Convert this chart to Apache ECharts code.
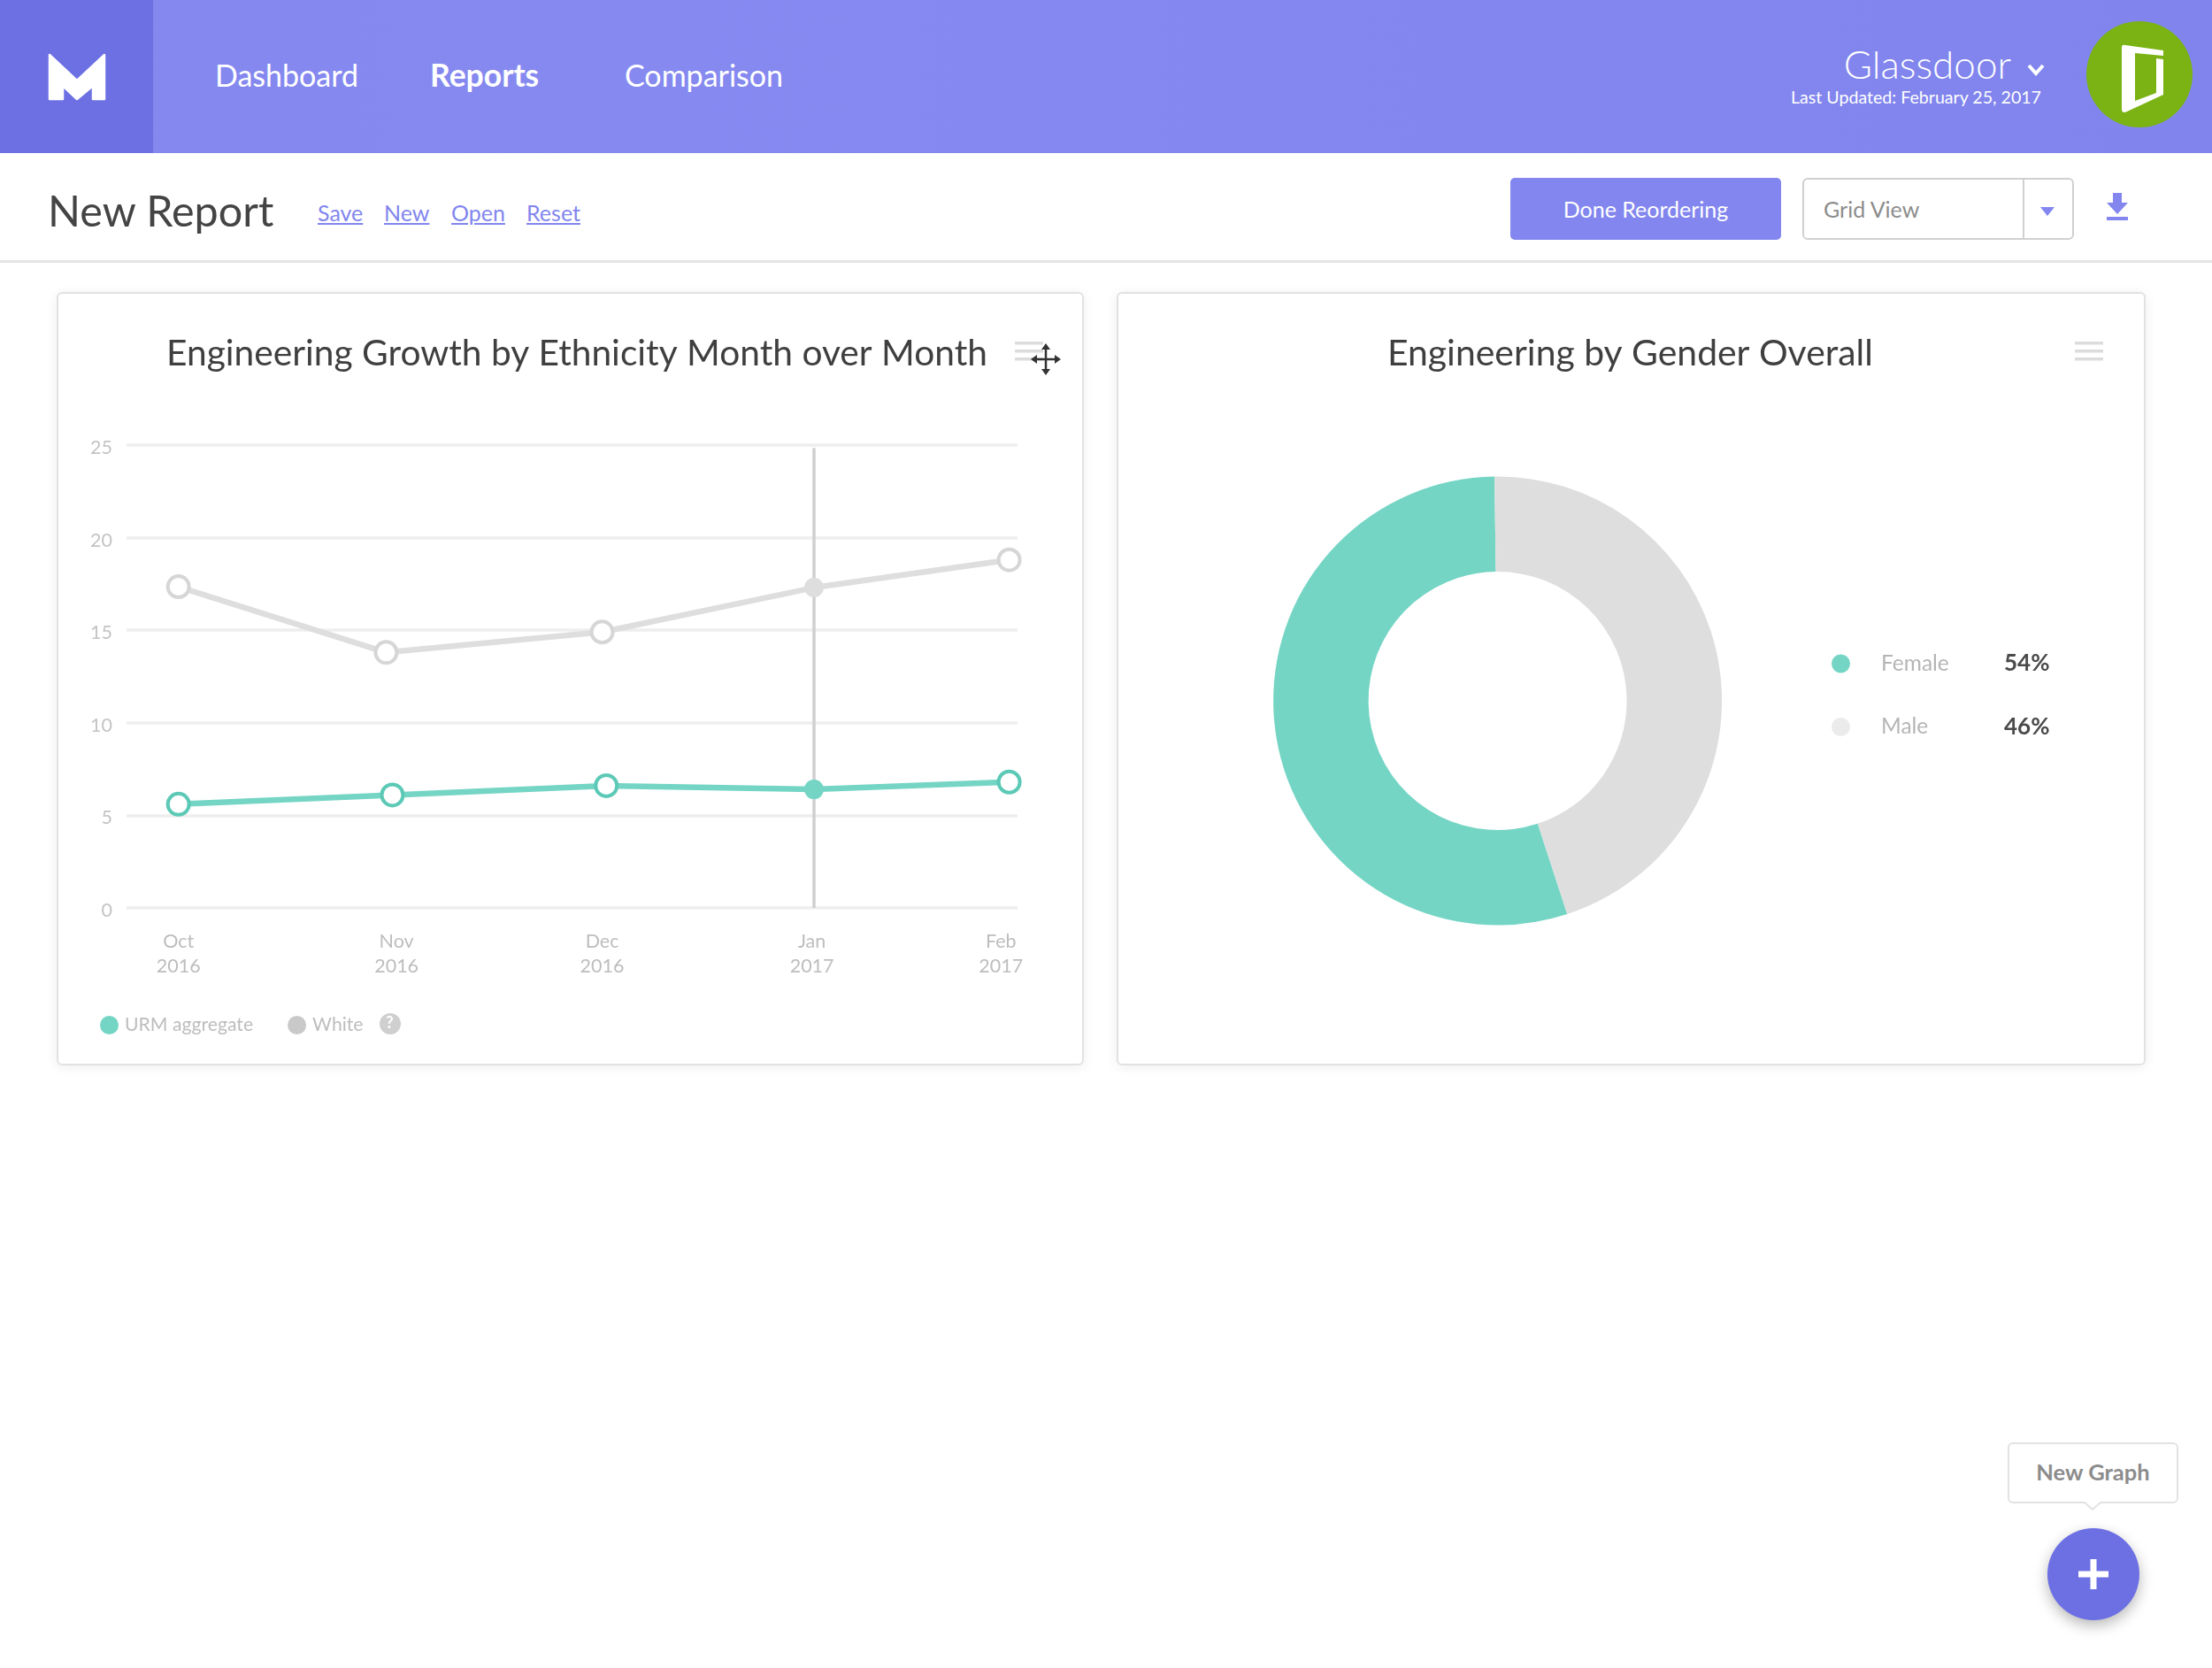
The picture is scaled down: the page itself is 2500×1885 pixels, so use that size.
<!DOCTYPE html>
<html>
<head>
<meta charset="utf-8">
<title>New Report</title>
<script src="https://cdn.jsdelivr.net/npm/echarts@6/dist/echarts.min.js"></script>
<style>
  html, body { margin: 0; padding: 0; background: #fff; }
  body { position: relative; width: 2500px; height: 1885px; overflow: hidden; font-family: Lato, sans-serif; }
  .abs { position: absolute; white-space: nowrap; }
  .header { left: 0; top: 0; width: 2500px; height: 173px; background: linear-gradient(90deg, #8387ee, #8589f0 30%, #8084ec); }
  .logo { left: 0; top: 0; width: 173px; height: 173px; background: #6d70e3; }
  .nav { top: 62px; font-size: 34px; line-height: 46px; color: #fff; }
  .link { top: 222px; font-size: 25px; line-height: 36px; color: #8286ee; text-decoration: underline; }
  .divider { left: 0; top: 294px; width: 2500px; height: 3px; background: #e4e4e4; }
  .btn { left: 1707px; top: 201px; width: 306px; height: 70px; background: #8286ee; border-radius: 5px; color: #fff; font-size: 25px; line-height: 70px; text-align: center; }
  .select { left: 2037px; top: 201px; width: 303px; height: 66px; border: 2px solid #d0d0d0; border-radius: 6px; color: #8c8c8c; font-size: 25px; line-height: 66px; }
  .card { background: #fff; border: 2px solid #e2e2e2; border-radius: 6px; box-sizing: border-box; box-shadow: 0 2px 14px rgba(0,0,0,.07); }
  .tip { left: 2269px; top: 1630px; width: 193px; height: 69px; box-sizing: border-box; background: #fff; border: 2px solid #e2e2e2; border-radius: 6px; color: #8c8c8c; font-size: 25.5px; font-weight: 700; line-height: 62px; text-align: center; }
  .fab { left: 2314px; top: 1727px; width: 104px; height: 104px; border-radius: 52px; background: #6d70e3; box-shadow: 0 6px 16px rgba(0,0,0,.28); }
</style>
</head>
<body>
<div class="abs header"></div>
<div class="abs logo"></div>
<svg class="abs" style="left:0;top:0" width="173" height="173"><path d="M56 62 L87 91 L118 62 L118 112 L105 112 L105 97 L87 112 L71 97 L71 112 L56 112 Z" fill="#fff" stroke="#fff" stroke-width="2.5" stroke-linejoin="round"/></svg>
<div class="abs nav" style="left:243px">Dashboard</div>
<div class="abs nav" style="left:486px;font-weight:700;font-size:35.5px">Reports</div>
<div class="abs nav" style="left:706px">Comparison</div>
<div class="abs" style="right:227px;top:42px;font-size:44px;line-height:60px;color:#fff;font-weight:300">Glassdoor</div>
<svg class="abs" style="left:2290px;top:68px" width="22" height="22"><path d="M3 6 L11 15 L19 6" fill="none" stroke="#fff" stroke-width="4"/></svg>
<div class="abs" style="right:193px;top:96px;font-size:19.6px;line-height:28px;color:#fff">Last Updated: February 25, 2017</div>
<svg class="abs" style="left:2358px;top:24px" width="122" height="122">
  <circle cx="60" cy="60" r="60" fill="#7ab313"/>
  <path transform="translate(-2358,-24)" d="M2398 53 Q2398 50 2402 51 L2445 57 L2445 63 L2413 60 L2413 114 L2437 105 L2437 66 L2445 67 L2445 107 L2404 126 Q2398 129 2398 123 Z" fill="#fff"/>
</svg>

<div class="abs" style="left:54px;top:207px;font-size:48.5px;line-height:60px;color:#444">New Report</div>
<div class="abs link" style="left:359px">Save</div>
<div class="abs link" style="left:434px">New</div>
<div class="abs link" style="left:510px">Open</div>
<div class="abs link" style="left:595px">Reset</div>
<div class="abs btn">Done Reordering</div>
<div class="abs select"><span style="margin-left:22px">Grid View</span></div>
<div class="abs" style="left:2286px;top:203px;width:2px;height:66px;background:#d0d0d0"></div>
<svg class="abs" style="left:2304px;top:232px" width="20" height="14"><path d="M2 2 L18 2 L10 12 Z" fill="#8286ee"/></svg>
<svg class="abs" style="left:2378px;top:216px" width="30" height="34"><path d="M10 2 H20 V13 H27 L15 26 L3 13 H10 Z" fill="#8286ee"/><rect x="3" y="29" width="24" height="4" fill="#8286ee"/></svg>
<div class="abs divider"></div>

<div class="abs card" id="growthCard" style="left:64px;top:330px;width:1161px;height:874px"></div>
<div class="abs card" id="genderCard" style="left:1262px;top:330px;width:1163px;height:874px"></div>

<svg class="abs" style="left:1165px;top:388px" width="36" height="36">
  <path d="M17 3 L17 33 M3 18 L31 18" stroke="#333" stroke-width="2.5"/>
  <path d="M17 0 L12 7 L22 7 Z M17 36 L12 29 L22 29 Z M0 18 L7 13 L7 23 Z M34 18 L27 13 L27 23 Z" fill="#333"/>
</svg>

<div class="abs tip">New Graph</div>
<svg class="abs" style="left:2353px;top:1697px" width="26" height="12"><path d="M2 0 L12 9 L22 0" fill="#fff" stroke="#e2e2e2" stroke-width="2"/></svg>
<div class="abs fab"></div>
<svg class="abs" style="left:2314px;top:1727px" width="104" height="104"><path d="M52 35 V69 M35 52 H69" stroke="#fff" stroke-width="7"/></svg>

<script>
// months are counted from Oct 2016, the mock's columns are not evenly spaced
const monthLabels = ['Oct\n2016', 'Nov\n2016', 'Dec\n2016', 'Jan\n2017', 'Feb\n2017'];
const labelMonths = [0, 1.05, 2.04, 3.05, 3.96];
const urmMonths = [0, 1.03, 2.06, 3.06, 4];
const urmValues = [5.6, 6.1, 6.6, 6.4, 6.8];
const whiteMonths = [0, 1, 2.04, 3.06, 4];
const whiteValues = [17.35, 13.8, 14.9, 17.3, 18.8];
const hoverMonth = 3.06;
const genderNames = ['Female', 'Male'];
const genderPercents = [54, 46];
// the ring in the picture is not cut quite at the printed percentages
const genderSlices = [54.8, 45.2];

const FONT = 'Lato';
const TEAL = '#75d5c5';
const GREY = '#dedede';

function menuIcon(left) {
  return [0, 1, 2].map(function (i) {
    return {
      type: 'rect',
      left: left,
      top: 54 + i * 9,
      shape: { width: 32, height: 3.5 },
      style: { fill: '#dcdcdc' }
    };
  });
}

function linePoints(months, values, lineColor) {
  return months.map(function (m, i) {
    const item = { value: [m, values[i]] };
    if (m === hoverMonth) {
      item.symbolSize = 22;
      item.itemStyle = { color: lineColor, borderColor: lineColor, borderWidth: 0 };
    }
    return item;
  });
}

const growthChart = echarts.init(document.getElementById('growthCard'), null, { renderer: 'canvas' });
growthChart.setOption({
  animation: false,
  textStyle: { fontFamily: FONT },
  title: {
    text: 'Engineering Growth by Ethnicity Month over Month',
    left: 117,
    top: 42,
    textStyle: { fontFamily: FONT, fontSize: 40.7, fontWeight: 400, color: '#3f3f3f' }
  },
  grid: { left: 77, right: 73, top: 171, bottom: 176 },
  xAxis: {
    type: 'value',
    min: -0.25,
    max: 4.04,
    splitLine: { show: false },
    axisLine: { show: false },
    axisTick: { show: false },
    axisLabel: {
      customValues: labelMonths,
      formatter: function (v) { return monthLabels[labelMonths.indexOf(v)]; },
      color: '#bdbdbd',
      fontFamily: FONT,
      fontSize: 21.5,
      lineHeight: 28,
      margin: 24
    }
  },
  yAxis: {
    type: 'value',
    min: 0,
    max: 25,
    interval: 5,
    axisLine: { show: false },
    axisTick: { show: false },
    axisLabel: {
      formatter: '{v|{value}}',
      margin: 16,
      rich: { v: { color: '#c4c4c4', fontFamily: FONT, fontSize: 21.5, padding: [6, 0, 0, 0] } }
    },
    splitLine: { lineStyle: { color: '#eeeeee', width: 3.5 } }
  },
  legend: {
    left: 42,
    top: 811,
    icon: 'circle',
    itemWidth: 21,
    itemHeight: 21,
    itemGap: 39,
    textStyle: { color: '#bdbdbd', fontFamily: FONT, fontSize: 21.2, padding: [0, 0, 0, 2] },
    data: [
      { name: 'URM aggregate', itemStyle: { color: TEAL, borderWidth: 0 } },
      { name: 'White', itemStyle: { color: '#c9c9c9', borderWidth: 0 } }
    ]
  },
  series: [
    {
      name: 'White',
      type: 'line',
      z: 3,
      data: linePoints(whiteMonths, whiteValues, GREY),
      symbol: 'circle',
      symbolSize: 24,
      lineStyle: { color: GREY, width: 6.5 },
      itemStyle: { color: '#fff', borderColor: '#d6d6d6', borderWidth: 4 },
      markLine: {
        silent: true,
        z: 1,
        symbol: 'none',
        label: { show: false },
        lineStyle: { color: '#cfcfcf', width: 3.5, type: 'solid' },
        data: [[{ coord: [hoverMonth, 24.85] }, { coord: [hoverMonth, 0] }]]
      }
    },
    {
      name: 'URM aggregate',
      type: 'line',
      z: 3,
      data: linePoints(urmMonths, urmValues, TEAL),
      symbol: 'circle',
      symbolSize: 24,
      lineStyle: { color: TEAL, width: 6.5 },
      itemStyle: { color: '#fff', borderColor: '#5cc9b6', borderWidth: 4 }
    }
  ],
  graphic: menuIcon(1081).concat([
    { type: 'circle', left: 363, top: 813, shape: { r: 12 }, style: { fill: '#cfcfcf' } },
    {
      type: 'text',
      left: 370,
      top: 814,
      style: { text: '?', fill: '#fff', fontFamily: FONT, fontSize: 19, fontWeight: 700 }
    }
  ])
});

const genderChart = echarts.init(document.getElementById('genderCard'), null, { renderer: 'canvas' });
genderChart.setOption({
  animation: false,
  textStyle: { fontFamily: FONT },
  title: {
    text: 'Engineering by Gender Overall',
    left: 299,
    top: 42,
    textStyle: { fontFamily: FONT, fontSize: 40.9, fontWeight: 400, color: '#3f3f3f' }
  },
  legend: {
    orient: 'vertical',
    left: 801,
    top: 400,
    icon: 'circle',
    itemWidth: 21,
    itemHeight: 21,
    itemGap: 45.5,
    formatter: function (name) {
      return '{name|' + name + '}{share|' + genderPercents[genderNames.indexOf(name)] + '%}';
    },
    textStyle: {
      fontFamily: FONT,
      rich: {
        name: { width: 139, padding: [0, 0, 0, 30], fontFamily: FONT, fontSize: 24.5, color: '#b5b5b5' },
        share: { fontFamily: FONT, fontSize: 26, fontWeight: 700, color: '#4a4a4a' }
      }
    },
    data: [
      { name: 'Female', itemStyle: { color: TEAL } },
      { name: 'Male', itemStyle: { color: '#ebebeb' } }
    ]
  },
  series: [{
    type: 'pie',
    center: [428.6, 460],
    radius: [146, 253.5],
    startAngle: 90.8,
    clockwise: false,
    silent: true,
    label: { show: false },
    labelLine: { show: false },
    color: [TEAL, GREY],
    data: genderNames.map(function (n, i) { return { name: n, value: genderSlices[i] }; })
  }],
  graphic: menuIcon(1081)
});
</script>
</body>
</html>
